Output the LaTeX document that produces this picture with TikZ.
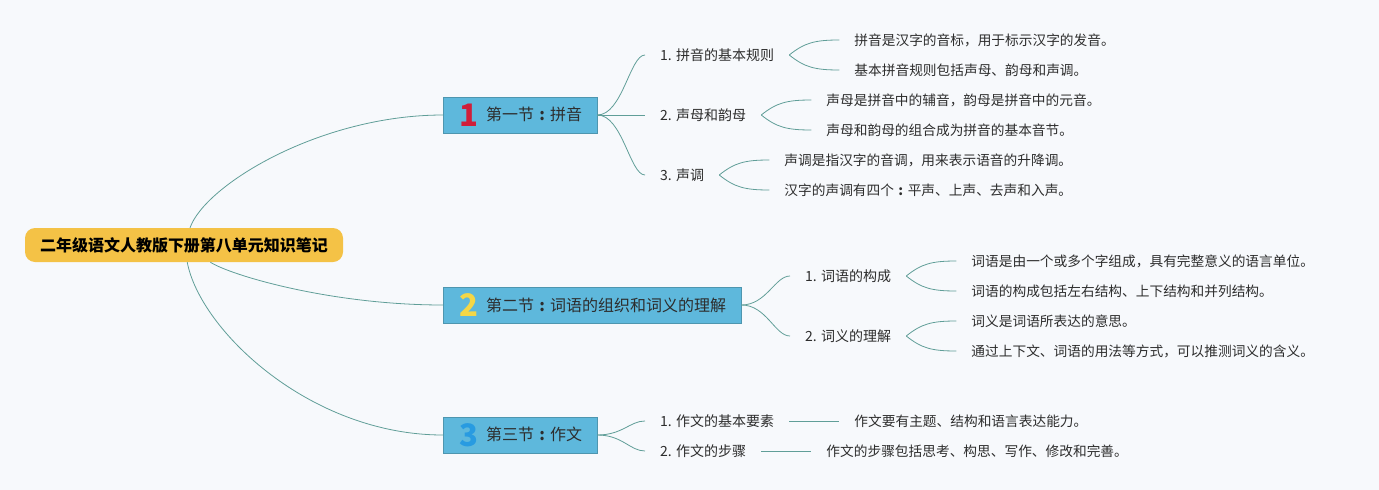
\documentclass[tikz,border=0pt]{standalone}
\usepackage{fontspec}
\usepackage{xcolor}
\usetikzlibrary{positioning}
\newfontfamily\cjk{Noto Sans CJK SC}
\definecolor{bgcol}{RGB}{247,249,252}
\definecolor{rootcol}{RGB}{244,194,70}
\definecolor{secfill}{RGB}{94,184,220}
\definecolor{secdraw}{RGB}{78,150,175}
\definecolor{linkcol}{RGB}{96,158,152}
\definecolor{textcol}{RGB}{45,45,45}
\definecolor{onecol}{RGB}{208,30,58}
\definecolor{twocol}{RGB}{245,215,70}
\definecolor{threecol}{RGB}{40,155,225}
\newcommand{\secnum}[2]{\hspace{5pt}\raisebox{-5.3pt}{\makebox[12pt]{\fontsize{31}{31}\selectfont\bfseries\color{#1}#2}}\hspace{11pt}}
\newcommand{\zhcolon}{\makebox[1em]{\bfseries :}}
\tikzset{
  rootbox/.style={rectangle, rounded corners=10pt, fill=rootcol, inner xsep=15pt, minimum height=34pt, font=\cjk\bfseries\fontsize{16}{18}\selectfont},
  secbox/.style={rectangle, fill=secfill, draw=secdraw, anchor=west, inner xsep=15pt, minimum height=36pt, text=textcol, font=\cjk\fontsize{16}{18}\selectfont},
  topic/.style={anchor=west, inner xsep=15pt, inner ysep=2pt, text=textcol, font=\cjk\fontsize{14}{16}\selectfont},
  leaf/.style={anchor=west, inner xsep=15pt, inner ysep=2pt, text=textcol, font=\cjk\fontsize{13.7}{16}\selectfont},
  link/.style={draw=linkcol, line width=0.8pt}
}
\begin{document}
\begin{tikzpicture}[x=1pt, y=-1pt]
\fill[bgcol] (0,0) rectangle (1379,490);
\useasboundingbox (0,0) rectangle (1379,490);

\node[rootbox] (root) at (184, 245) {二年级语文人教版下册第八单元知识笔记};
\node[secbox] (s1) at (443, 115) {\secnum{onecol}{1}第一节\zhcolon 拼音};
\node[secbox] (s2) at (443, 305) {\secnum{twocol}{2}第二节\zhcolon 词语的组织和词义的理解};
\node[secbox] (s3) at (443, 435) {\secnum{threecol}{3}第三节\zhcolon 作文};

\node[topic] (s1a) at (645, 55) {1. 拼音的基本规则};
\node[topic] (s1b) at (645, 115) {2. 声母和韵母};
\node[topic] (s1c) at (645, 175) {3. 声调};
\node[topic] (s2a) at (790, 276) {1. 词语的构成};
\node[topic] (s2b) at (790, 336) {2. 词义的理解};
\node[topic] (s3a) at (645, 421) {1. 作文的基本要素};
\node[topic] (s3b) at (645, 451) {2. 作文的步骤};

\node[leaf] (l1a1) at ([shift={(50,-15)}]s1a.east) {拼音是汉字的音标，用于标示汉字的发音。};
\node[leaf] (l1a2) at ([shift={(50,15)}]s1a.east) {基本拼音规则包括声母、韵母和声调。};
\node[leaf] (l1b1) at ([shift={(50,-15)}]s1b.east) {声母是拼音中的辅音，韵母是拼音中的元音。};
\node[leaf] (l1b2) at ([shift={(50,15)}]s1b.east) {声母和韵母的组合成为拼音的基本音节。};
\node[leaf] (l1c1) at ([shift={(50,-15)}]s1c.east) {声调是指汉字的音调，用来表示语音的升降调。};
\node[leaf] (l1c2) at ([shift={(50,15)}]s1c.east) {汉字的声调有四个\zhcolon 平声、上声、去声和入声。};
\node[leaf] (l2a1) at ([shift={(50,-15)}]s2a.east) {词语是由一个或多个字组成，具有完整意义的语言单位。};
\node[leaf] (l2a2) at ([shift={(50,15)}]s2a.east) {词语的构成包括左右结构、上下结构和并列结构。};
\node[leaf] (l2b1) at ([shift={(50,-15)}]s2b.east) {词义是词语所表达的意思。};
\node[leaf] (l2b2) at ([shift={(50,15)}]s2b.east) {通过上下文、词语的用法等方式，可以推测词义的含义。};
\node[leaf] (l3a) at ([shift={(50,0)}]s3a.east) {作文要有主题、结构和语言表达能力。};
\node[leaf] (l3b) at ([shift={(50,0)}]s3b.east) {作文的步骤包括思考、构思、写作、修改和完善。};

\draw[link] (root) .. controls (205,185) and (320,115) .. (s1.west);
\draw[link] (root) .. controls (230,275) and (330,305) .. (s2.west);
\draw[link] (root) .. controls (200,330) and (310,435) .. (s3.west);

\draw[link] (s1.east) .. controls +(25,0) and +(-15,0) .. (s1a.west);
\draw[link] (s1.east) -- (s1b.west);
\draw[link] (s1.east) .. controls +(25,0) and +(-15,0) .. (s1c.west);
\draw[link] (s2.east) .. controls +(25,0) and +(-15,0) .. (s2a.west);
\draw[link] (s2.east) .. controls +(25,0) and +(-15,0) .. (s2b.west);
\draw[link] (s3.east) .. controls +(25,0) and +(-15,0) .. (s3a.west);
\draw[link] (s3.east) .. controls +(25,0) and +(-15,0) .. (s3b.west);

\draw[link] (s1a.east) .. controls +(15,-12) and +(-25,0) .. (l1a1.west);
\draw[link] (s1a.east) .. controls +(15,12) and +(-25,0) .. (l1a2.west);
\draw[link] (s1b.east) .. controls +(15,-12) and +(-25,0) .. (l1b1.west);
\draw[link] (s1b.east) .. controls +(15,12) and +(-25,0) .. (l1b2.west);
\draw[link] (s1c.east) .. controls +(15,-12) and +(-25,0) .. (l1c1.west);
\draw[link] (s1c.east) .. controls +(15,12) and +(-25,0) .. (l1c2.west);
\draw[link] (s2a.east) .. controls +(15,-12) and +(-25,0) .. (l2a1.west);
\draw[link] (s2a.east) .. controls +(15,12) and +(-25,0) .. (l2a2.west);
\draw[link] (s2b.east) .. controls +(15,-12) and +(-25,0) .. (l2b1.west);
\draw[link] (s2b.east) .. controls +(15,12) and +(-25,0) .. (l2b2.west);
\draw[link] (s3a.east) -- (l3a.west);
\draw[link] (s3b.east) -- (l3b.west);
\end{tikzpicture}
\end{document}
